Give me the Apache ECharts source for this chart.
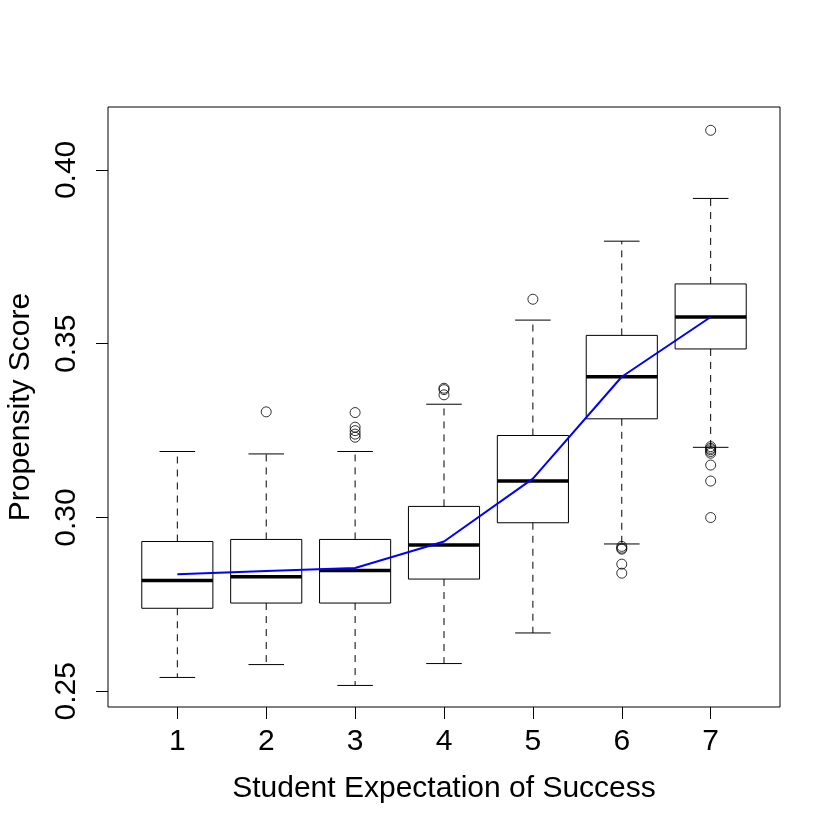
<!DOCTYPE html>
<html>
<head>
<meta charset="utf-8">
<script src="https://cdn.jsdelivr.net/npm/echarts@6/dist/echarts.min.js"></script>
<style>
    html, body { margin: 0; padding: 0; background: #fff; }
    #chartBox { width: 840px; height: 840px; }
</style>
</head>
<body>
<div id="chartBox"></div>
<script>
// data
var categories = [1, 2, 3, 4, 5, 6, 7];
var lowWhisker  = [0.2540, 0.2577, 0.2517, 0.2580, 0.2668, 0.2924, 0.3202];
var q1          = [0.2739, 0.2754, 0.2754, 0.2823, 0.2985, 0.3284, 0.3485];
var median      = [0.2819, 0.2830, 0.2848, 0.2921, 0.3105, 0.3405, 0.3577];
var q3          = [0.2931, 0.2937, 0.2937, 0.3032, 0.3236, 0.3524, 0.3672];
var highWhisker = [0.3190, 0.3183, 0.3190, 0.3326, 0.3568, 0.3795, 0.3918];
var means       = [0.2837, 0.2846, 0.2855, 0.2931, 0.3112, 0.3405, 0.3577];
var outliers = [
    [],
    [0.3304],
    [0.3302, 0.3260, 0.3250, 0.3240, 0.3231],
    [0.3372, 0.3368, 0.3353],
    [0.3628],
    [0.2917, 0.2912, 0.2909, 0.2866, 0.2840],
    [0.4114, 0.3204, 0.3199, 0.3195, 0.3190, 0.3185, 0.3151, 0.3105, 0.3000]
];
var yTicks = [0.25, 0.30, 0.35, 0.40];

var font = 'Liberation Sans, Arial, Helvetica, sans-serif';

var boxData = categories.map(function (c, i) {
    return [c, lowWhisker[i], q1[i], median[i], q3[i], highWhisker[i]];
});
var outlierData = [];
categories.forEach(function (c, i) {
    outliers[i].forEach(function (v) { outlierData.push([c, v]); });
});
var meanData = categories.map(function (c, i) { return [c, means[i]]; });

function renderBox(params, api) {
    var x = api.value(0);
    var low = api.coord([x, api.value(1)]);
    var lo = api.coord([x, api.value(2)]);
    var med = api.coord([x, api.value(3)]);
    var hi = api.coord([x, api.value(4)]);
    var high = api.coord([x, api.value(5)]);
    var w = api.size([0.8, 0])[0];
    var cx = low[0];
    var thin = { stroke: '#000', lineWidth: 1 };
    var dashed = { stroke: '#000', lineWidth: 1, lineDash: [7, 6] };
    return {
        type: 'group',
        children: [
            // whiskers, dashed, with half-width caps
            { type: 'line', shape: { x1: cx, y1: hi[1], x2: cx, y2: high[1] }, style: dashed },
            { type: 'line', shape: { x1: cx, y1: lo[1], x2: cx, y2: low[1] }, style: dashed },
            { type: 'line', shape: { x1: cx - w / 4, y1: high[1], x2: cx + w / 4, y2: high[1] }, style: thin },
            { type: 'line', shape: { x1: cx - w / 4, y1: low[1], x2: cx + w / 4, y2: low[1] }, style: thin },
            { type: 'rect', shape: { x: cx - w / 2, y: hi[1], width: w, height: lo[1] - hi[1] },
              style: { fill: 'none', stroke: '#000', lineWidth: 1 } },
            { type: 'line', shape: { x1: cx - w / 2, y1: med[1], x2: cx + w / 2, y2: med[1] },
              style: { stroke: '#000', lineWidth: 3.5 } }
        ]
    };
}

var myChart = echarts.init(document.getElementById('chartBox'));
var option = {
    animation: false,
    backgroundColor: '#fff',
    grid: {
        left: 108, right: 60, top: 107, bottom: 133,
        containLabel: false,
        outerBoundsMode: 'none',
        show: true, borderColor: '#000', borderWidth: 1, backgroundColor: 'transparent'
    },
    xAxis: {
        type: 'value',
        min: 0.22, max: 7.78,
        name: 'Student Expectation of Success',
        nameLocation: 'middle',
        nameGap: 67,
        nameTextStyle: { fontFamily: font, fontSize: 30, color: '#000' },
        axisLine: { show: false },
        axisTick: { show: true, inside: false, length: 12, customValues: categories,
                    lineStyle: { color: '#000', width: 1 } },
        axisLabel: { customValues: categories, margin: 20, fontFamily: font, fontSize: 30, color: '#000' },
        splitLine: { show: false }
    },
    yAxis: {
        type: 'value',
        min: 0.2455, max: 0.4181,
        name: 'Propensity Score',
        nameLocation: 'middle',
        nameRotate: 90,
        nameGap: 72,
        nameTextStyle: { fontFamily: font, fontSize: 30, color: '#000' },
        axisLine: { show: false },
        axisTick: { show: true, inside: false, length: 12, customValues: yTicks,
                    lineStyle: { color: '#000', width: 1 } },
        axisLabel: {
            customValues: yTicks, rotate: 90, margin: 26,
            fontFamily: font, fontSize: 30, color: '#000',
            formatter: function (v) { return v.toFixed(2); }
        },
        splitLine: { show: false }
    },
    series: [
        {
            type: 'custom',
            renderItem: renderBox,
            data: boxData,
            z: 2,
            encode: { x: 0, y: [1, 2, 3, 4, 5] }
        },
        {
            type: 'scatter',
            data: outlierData,
            symbol: 'circle',
            symbolSize: 10,
            itemStyle: { color: 'rgba(255,255,255,0)', borderColor: '#000', borderWidth: 1 },
            z: 3
        },
        {
            type: 'line',
            data: meanData,
            showSymbol: false,
            lineStyle: { color: '#0000ff', width: 2 },
            z: 4
        }
    ]
};
myChart.setOption(option);
</script>
</body>
</html>
